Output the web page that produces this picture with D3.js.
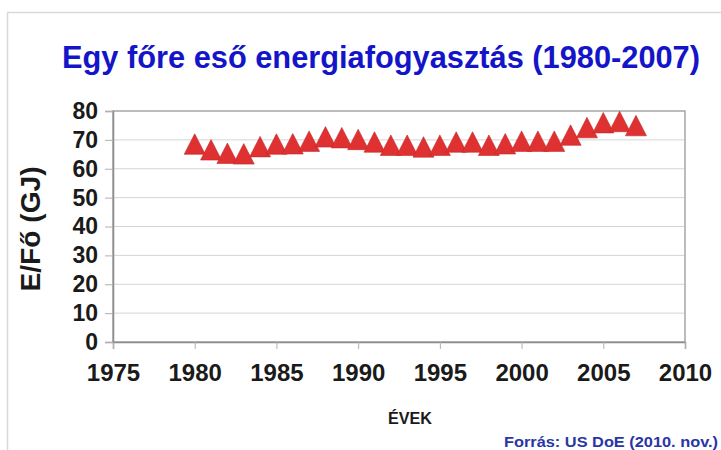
<!DOCTYPE html>
<html>
<head>
<meta charset="utf-8">
<script src="https://cdn.jsdelivr.net/npm/d3@7"></script>
<style>
  body { margin: 0; background: #fff; }
  svg text { font-family: "Liberation Sans", Arial, sans-serif; }
</style>
</head>
<body>
<div id="chart"></div>
<script>
// data
const years = [1980, 1981, 1982, 1983, 1984, 1985, 1986, 1987, 1988, 1989,
  1990, 1991, 1992, 1993, 1994, 1995, 1996, 1997, 1998, 1999,
  2000, 2001, 2002, 2003, 2004, 2005, 2006, 2007];
const energyPerCapita = [68.3, 66.3, 65.1, 64.9, 67.4, 68.3, 68.4, 69.3, 70.8, 70.5,
  69.9, 69.0, 67.9, 67.9, 67.3, 67.9, 69.0, 69.0, 67.9, 68.4,
  69.3, 69.3, 69.3, 71.4, 74.0, 75.7, 76.1, 74.7];
const xTicks = [1975, 1980, 1985, 1990, 1995, 2000, 2005, 2010];
const yTicks = [0, 10, 20, 30, 40, 50, 60, 70, 80];

const W = 721, H = 450;
const plot = { left: 113, right: 685, top: 111, bottom: 342 };

const svg = d3.select("#chart").append("svg")
  .attr("width", W)
  .attr("height", H);

// outer frame (only top and left visible)
svg.append("path")
  .attr("d", `M7.5,${H} V12.5 H${W}`)
  .attr("fill", "none")
  .attr("stroke", "#d9d9d9")
  .attr("stroke-width", 1.5);

const x = d3.scaleLinear().domain([1975, 2010]).range([plot.left, plot.right]);
const y = d3.scaleLinear().domain([0, 80]).range([plot.bottom, plot.top]);

// gridlines
svg.append("g")
  .selectAll("line")
  .data(yTicks.slice(1, -1))
  .join("line")
  .attr("x1", plot.left).attr("x2", plot.right)
  .attr("y1", d => y(d)).attr("y2", d => y(d))
  .attr("stroke", "#d4d4d4")
  .attr("stroke-width", 1);

// plot frame
svg.append("rect")
  .attr("x", plot.left).attr("y", plot.top)
  .attr("width", plot.right - plot.left)
  .attr("height", plot.bottom - plot.top)
  .attr("fill", "none")
  .attr("stroke", "#a6a6a6")
  .attr("stroke-width", 1.5);

// y axis
const yAxis = svg.append("g")
  .attr("transform", `translate(${plot.left},0)`)
  .call(d3.axisLeft(y).tickValues(yTicks).tickSize(8).tickPadding(7));
yAxis.select(".domain").attr("stroke", "#8c8c8c").attr("stroke-width", 1.5);
yAxis.selectAll(".tick line").attr("stroke", "#b0b0b0");
yAxis.selectAll(".tick text")
  .attr("font-size", 23)
  .attr("font-weight", "bold")
  .attr("fill", "#1a1a1a")
  .style("font-family", "'Liberation Sans', Arial, sans-serif");

// x axis
const xAxis = svg.append("g")
  .attr("transform", `translate(0,${plot.bottom})`)
  .call(d3.axisBottom(x).tickValues(xTicks).tickFormat(d3.format("d")).tickSize(7).tickPadding(15));
xAxis.select(".domain").attr("stroke", "#8c8c8c").attr("stroke-width", 1.5);
xAxis.selectAll(".tick line").attr("stroke", "#b0b0b0");
xAxis.selectAll(".tick text")
  .attr("font-size", 24)
  .attr("font-weight", "bold")
  .attr("fill", "#1a1a1a")
  .style("font-family", "'Liberation Sans', Arial, sans-serif");

// triangle markers
const tri = "M0,-11 L10.5,9.5 L-10.5,9.5 Z";
svg.append("g")
  .selectAll("path")
  .data(years.map((yr, i) => ({ year: yr, value: energyPerCapita[i] })))
  .join("path")
  .attr("transform", d => `translate(${x(d.year)},${y(d.value)})`)
  .attr("d", tri)
  .attr("fill", "#df3131")
  .attr("stroke", "#c22828")
  .attr("stroke-width", 0.6);

// title
svg.append("text")
  .attr("x", 381)
  .attr("y", 68)
  .attr("text-anchor", "middle")
  .attr("font-size", 31)
  .attr("font-weight", "bold")
  .attr("fill", "#1414c8")
  .attr("textLength", 638)
  .attr("lengthAdjust", "spacingAndGlyphs")
  .text("Egy főre eső energiafogyasztás (1980-2007)");

// y axis title
svg.append("text")
  .attr("transform", "translate(40,229) rotate(-90)")
  .attr("text-anchor", "middle")
  .attr("font-size", 27)
  .attr("font-weight", "bold")
  .attr("fill", "#1a1a1a")
  .attr("textLength", 125)
  .attr("lengthAdjust", "spacingAndGlyphs")
  .text("E/Fő (GJ)");

// x axis title
svg.append("text")
  .attr("x", 410)
  .attr("y", 424)
  .attr("text-anchor", "middle")
  .attr("font-size", 17)
  .attr("font-weight", "bold")
  .attr("fill", "#1a1a1a")
  .attr("textLength", 44)
  .attr("lengthAdjust", "spacingAndGlyphs")
  .text("ÉVEK");

// source
svg.append("text")
  .attr("x", 718)
  .attr("y", 447)
  .attr("text-anchor", "end")
  .attr("font-size", 15)
  .attr("font-weight", "bold")
  .attr("fill", "#2a36a6")
  .attr("textLength", 214)
  .attr("lengthAdjust", "spacingAndGlyphs")
  .text("Forrás: US DoE (2010. nov.)");
</script>
</body>
</html>
